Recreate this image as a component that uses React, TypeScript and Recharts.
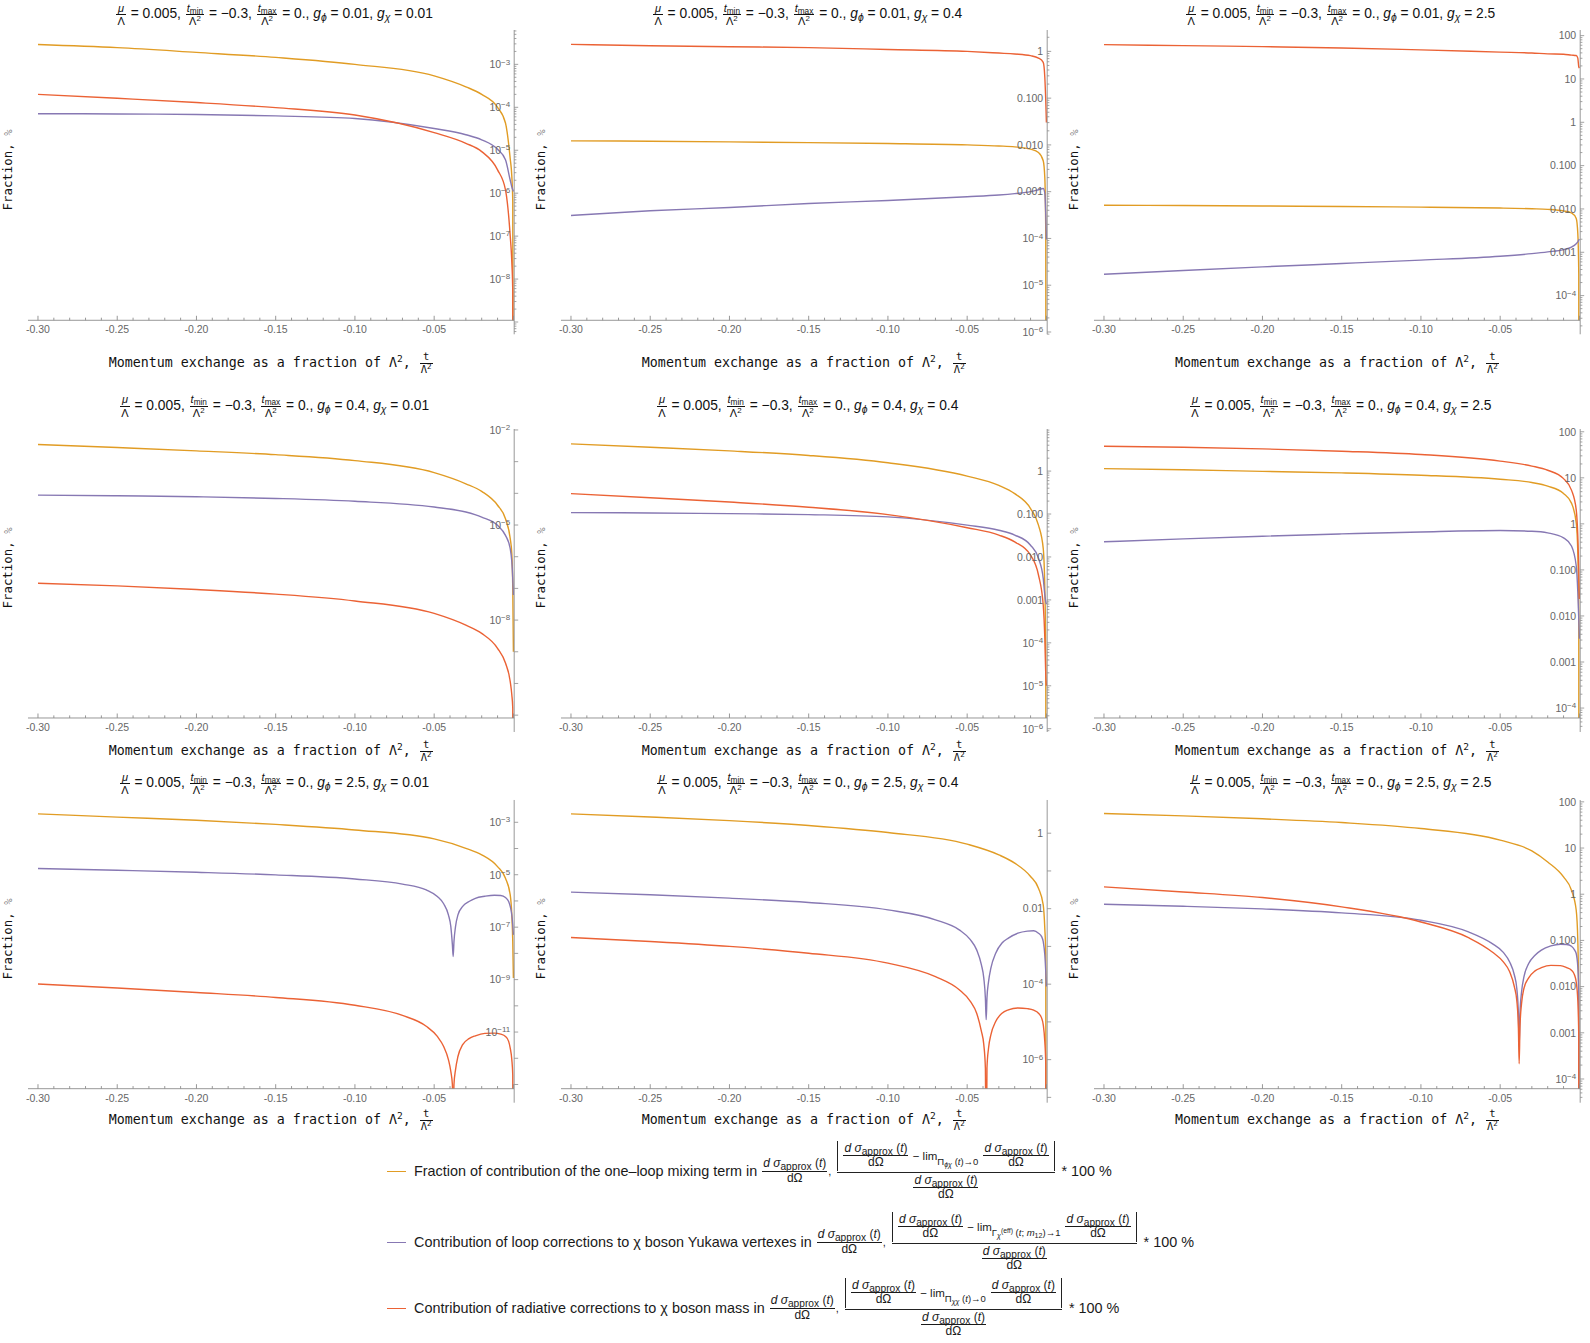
import React from 'react';
import { LineChart, Line, XAxis, YAxis } from 'recharts';

// ---------- colours / fonts ----------
const ORANGE = '#E19C24';
const PURPLE = '#8778B3';
const RED = '#EB6235';
const AXIS = '#8c8c8c';
const TICKTXT = '#666666';
const SANS = "'Liberation Sans', Arial, Helvetica, sans-serif";
const MONO = "'DejaVu Sans Mono', 'Liberation Mono', monospace";

// ---------- data ----------
const T_SMOOTH = [-0.30, -0.25, -0.20, -0.15, -0.10, -0.05, -0.03, -0.02, -0.01, -0.005, -0.002, -0.001, -0.0004, 0];
const T_DIP = [-0.30, -0.25, -0.20, -0.15, -0.10, -0.07, -0.055, -0.048, -0.044, -0.041, -0.0395, -0.0385, -0.038, -0.0375, -0.0365, -0.035, -0.032, -0.028, -0.024, -0.018, -0.012, -0.008, -0.005, -0.003, -0.002, -0.001, -0.0004, 0];

const G_PHI = ['0.01', '0.4', '2.5'];
const G_CHI = ['0.01', '0.4', '2.5'];

// row 1 (g_phi = 0.01)
const ORANGE_11 = [2.9e-3, 2.45e-3, 1.9e-3, 1.45e-3, 1.0e-3, 5.4e-4, 3.0e-4, 2.0e-4, 1.0e-4, 4.3e-5, 6.3e-6, 2.5e-6, 6.3e-7, 1e-20];
const PURPLE_11 = [7.1e-5, 7.0e-5, 6.8e-5, 6.3e-5, 5.5e-5, 3.2e-5, 2.3e-5, 1.75e-5, 1.05e-5, 6.0e-6, 2.0e-6, 1.4e-6, 1.2e-6, 1.1e-6];
const RED_11 = [2.0e-4, 1.62e-4, 1.29e-4, 9.8e-5, 6.6e-5, 2.57e-5, 1.45e-5, 9.3e-6, 3.5e-6, 1.2e-6, 1.0e-7, 2.5e-8, 5.0e-9, 1e-20];

const ORANGE_12 = [1.22e-2, 1.2e-2, 1.16e-2, 1.12e-2, 1.07e-2, 1.0e-2, 9.5e-3, 9.1e-3, 8.1e-3, 6.9e-3, 4.6e-3, 2.0e-3, 1.26e-4, 1e-20];
const PURPLE_12 = [3.1e-4, 3.9e-4, 4.6e-4, 5.6e-4, 6.5e-4, 7.8e-4, 8.5e-4, 9.1e-4, 1.0e-3, 1.1e-3, 1.17e-3, 9.3e-4, 3.2e-4, 9.5e-5];
const RED_12 = [1.41, 1.32, 1.26, 1.2, 1.1, 1.0, 0.92, 0.88, 0.81, 0.72, 0.58, 0.28, 0.087, 0.030];

const ORANGE_13 = [1.22e-2, 1.2e-2, 1.17e-2, 1.14e-2, 1.1e-2, 1.05e-2, 1.01e-2, 9.8e-3, 9.0e-3, 8.1e-3, 6.0e-3, 2.7e-3, 3.2e-4, 1e-20];
const PURPLE_13 = [3.1e-4, 3.8e-4, 4.6e-4, 5.5e-4, 6.6e-4, 8.1e-4, 9.3e-4, 1.02e-3, 1.15e-3, 1.32e-3, 1.58e-3, 1.74e-3, 1.9e-3, 2.0e-3];
const RED_13 = [62, 58.9, 55.7, 51.9, 46.8, 41.7, 39.8, 38.0, 37.2, 35.5, 34.7, 30.2, 19.1, 17.8];

// row 2 (g_phi = 0.4)
const ORANGE_21 = [3.47e-3, 2.78e-3, 2.19e-3, 1.66e-3, 1.08e-3, 4.5e-4, 2.0e-4, 1.15e-4, 4.2e-5, 1.58e-5, 3.7e-6, 1.26e-6, 1.0e-7, 1.0e-9];
const PURPLE_21 = [8.8e-5, 8.4e-5, 7.8e-5, 6.9e-5, 5.6e-5, 3.7e-5, 2.57e-5, 1.78e-5, 9.8e-6, 4.7e-6, 1.8e-6, 6.9e-7, 2.0e-7, 6.2e-8];
const RED_21 = [1.46e-7, 1.2e-7, 9.2e-8, 6.6e-8, 4.0e-8, 1.62e-8, 6.9e-9, 3.8e-9, 1.29e-9, 4.4e-10, 1.15e-10, 4.4e-11, 1.66e-11, 1e-30];

const ORANGE_22 = [4.3, 3.6, 2.96, 2.31, 1.56, 0.766, 0.465, 0.298, 0.134, 0.055, 0.0158, 1.86e-3, 5.2e-5, 1e-20];
const PURPLE_22 = [0.108, 0.106, 0.102, 0.097, 0.0857, 0.055, 0.042, 0.0324, 0.0188, 9.3e-3, 3.16e-3, 1.32e-3, 9.1e-4, 7.9e-4];
const RED_22 = [0.298, 0.24, 0.19, 0.144, 0.097, 0.048, 0.0324, 0.0224, 0.011, 3.8e-3, 7.6e-4, 1.29e-4, 1.82e-5, 1.0e-5];

const ORANGE_23 = [15.8, 15.0, 13.8, 12.8, 11.4, 9.3, 7.9, 6.6, 4.57, 2.82, 1.05, 0.237, 8.7e-3, 1e-20];
const PURPLE_23 = [0.408, 0.473, 0.54, 0.605, 0.668, 0.715, 0.692, 0.637, 0.498, 0.331, 0.123, 0.033, 8.7e-3, 3.2e-3];
const RED_23 = [48.4, 46.1, 42.5, 37.8, 32.1, 23.1, 18.0, 14.6, 9.6, 5.4, 2.02, 0.537, 0.105, 0.0234];

// row 3 (g_phi = 2.5) : purple / red use T_DIP
const ORANGE_31 = [2.09e-3, 1.58e-3, 1.2e-3, 8.3e-4, 5.1e-4, 2.32e-4, 1.02e-4, 5.75e-5, 2.04e-5, 7.4e-6, 1.7e-6, 2.95e-7, 2.8e-8, 1.15e-9];
const PURPLE_31 = [1.72e-5, 1.48e-5, 1.24e-5, 9.9e-6, 6.9e-6, 4.4e-6, 2.63e-6, 1.48e-6, 7.8e-7, 2.95e-7, 1.07e-7, 2.14e-8, 7.6e-9, 2.8e-8, 1.07e-7, 2.95e-7, 6.2e-7, 9.5e-7, 1.26e-6, 1.51e-6, 1.66e-6, 1.62e-6, 1.35e-6, 9.5e-7, 6.2e-7, 2.95e-7, 1.23e-7, 5.1e-8];
const RED_31 = [6.8e-10, 4.8e-10, 3.24e-10, 2.09e-10, 1.05e-10, 4.3e-11, 1.66e-11, 6.8e-12, 2.8e-12, 8.9e-13, 3.2e-13, 1.0e-13, 1e-16, 1.0e-13, 3.7e-13, 1.17e-12, 3.3e-12, 5.6e-12, 7.2e-12, 8.9e-12, 9.1e-12, 8.3e-12, 6.8e-12, 4.4e-12, 2.45e-12, 8.9e-13, 2.3e-13, 1e-20];

const ORANGE_32 = [3.25, 2.7, 2.16, 1.6, 1.04, 0.513, 0.267, 0.161, 0.0713, 0.035, 0.0126, 3.0e-3, 6.0e-4, 1e-20];
const PURPLE_32 = [2.74e-2, 2.33e-2, 1.9e-2, 1.46e-2, 9.3e-3, 5.07e-3, 2.75e-3, 1.51e-3, 8.1e-4, 3.24e-4, 1.45e-4, 4.3e-5, 1.15e-5, 4.3e-5, 1.17e-4, 2.7e-4, 6.6e-4, 1.23e-3, 1.66e-3, 2.24e-3, 2.54e-3, 2.6e-3, 2.24e-3, 1.82e-3, 1.35e-3, 6.0e-4, 2.19e-4, 8.7e-5];
const RED_32 = [1.73e-3, 1.35e-3, 1.0e-3, 6.6e-4, 3.6e-4, 1.58e-4, 7.1e-5, 3.5e-5, 1.7e-5, 5.6e-6, 2.5e-6, 6.0e-7, 1e-10, 6.0e-7, 2.04e-6, 4.6e-6, 1.02e-5, 1.7e-5, 2.09e-5, 2.34e-5, 2.24e-5, 2.04e-5, 1.7e-5, 1.26e-5, 8.5e-6, 3.0e-6, 7.4e-7, 1e-20];

const ORANGE_33 = [55.8, 49.8, 42.9, 35.6, 26.4, 14.8, 8.7, 5.0, 2.37, 1.22, 0.45, 0.1, 4.3e-3, 1e-20];
const PURPLE_33 = [0.607, 0.55, 0.481, 0.394, 0.274, 0.153, 0.0851, 0.055, 0.0342, 0.0176, 9.1e-3, 2.6e-3, 4.9e-4, 2.6e-3, 7.6e-3, 0.0162, 0.0316, 0.0479, 0.0617, 0.0759, 0.0826, 0.0813, 0.0748, 0.0617, 0.0519, 0.0267, 7.1e-3, 1e-20];
const RED_33 = [1.44, 1.12, 0.847, 0.532, 0.251, 0.115, 0.0562, 0.0342, 0.0209, 9.8e-3, 5.0e-3, 1.35e-3, 2.14e-4, 1.35e-3, 4.3e-3, 9.1e-3, 0.0155, 0.0219, 0.0257, 0.0288, 0.0285, 0.0257, 0.0226, 0.0176, 0.0126, 5.0e-3, 8.1e-4, 1e-20];

// ---------- tick labels ----------
const X_MAJOR = [-0.30, -0.25, -0.20, -0.15, -0.10, -0.05, 0];
const X_LABELS = ['-0.30', '-0.25', '-0.20', '-0.15', '-0.10', '-0.05', ''];

const Y_LAB_POW_3_8: [number, string][] = [[1e-3, '10^−3'], [1e-4, '10^−4'], [1e-5, '10^−5'], [1e-6, '10^−6'], [1e-7, '10^−7'], [1e-8, '10^−8']];
const Y_LAB_1_TO_6: [number, string][] = [[1, '1'], [0.1, '0.100'], [0.01, '0.010'], [0.001, '0.001'], [1e-4, '10^−4'], [1e-5, '10^−5'], [1e-6, '10^−6']];
const Y_LAB_100_TO_4: [number, string][] = [[100, '100'], [10, '10'], [1, '1'], [0.1, '0.100'], [0.01, '0.010'], [0.001, '0.001'], [1e-4, '10^−4']];
const Y_LAB_21: [number, string][] = [[1e-2, '10^−2'], [1e-5, '10^−5'], [1e-8, '10^−8']];
const Y_LAB_31: [number, string][] = [[1e-3, '10^−3'], [1e-5, '10^−5'], [1e-7, '10^−7'], [1e-9, '10^−9'], [1e-11, '10^−11']];
const Y_LAB_32: [number, string][] = [[1, '1'], [0.01, '0.01'], [1e-4, '10^−4'], [1e-6, '10^−6']];

type PanelCfg = {
  dom: [number, number];
  labels: [number, string][];
  mode: 'sub' | 'decade';
  orange: number[];
  purple: number[];
  red: number[];
  dip: boolean;
};

const PANELS: PanelCfg[] = [
  { dom: [-8.96, -2.2], labels: Y_LAB_POW_3_8, mode: 'sub', orange: ORANGE_11, purple: PURPLE_11, red: RED_11, dip: false },
  { dom: [-5.75, 0.457], labels: Y_LAB_1_TO_6, mode: 'sub', orange: ORANGE_12, purple: PURPLE_12, red: RED_12, dip: false },
  { dom: [-4.57, 2.13], labels: Y_LAB_100_TO_4, mode: 'sub', orange: ORANGE_13, purple: PURPLE_13, red: RED_13, dip: false },
  { dom: [-11.09, -1.97], labels: Y_LAB_21, mode: 'decade', orange: ORANGE_21, purple: PURPLE_21, red: RED_21, dip: false },
  { dom: [-5.75, 0.98], labels: Y_LAB_1_TO_6, mode: 'sub', orange: ORANGE_22, purple: PURPLE_22, red: RED_22, dip: false },
  { dom: [-4.216, 2.06], labels: Y_LAB_100_TO_4, mode: 'sub', orange: ORANGE_23, purple: PURPLE_23, red: RED_23, dip: false },
  { dom: [-13.16, -2.15], labels: Y_LAB_31, mode: 'decade', orange: ORANGE_31, purple: PURPLE_31, red: RED_31, dip: true },
  { dom: [-6.77, 0.88], labels: Y_LAB_32, mode: 'decade', orange: ORANGE_32, purple: PURPLE_32, red: RED_32, dip: true },
  { dom: [-4.21, 2.04], labels: Y_LAB_100_TO_4, mode: 'sub', orange: ORANGE_33, purple: PURPLE_33, red: RED_33, dip: true },
];

// ---------- layout ----------
const PLOT_LEFT = [28.1, 561.2, 1094.3];
const PLOT_W = 486.2;
const PLOT_TOP = [30.4, 429.3, 800.3];
const PLOT_BOTTOM = [320.7, 718.3, 1089];
const TITLE_Y = [14, 405.7, 783.3];
const XLABEL_Y = [363.3, 751, 1120];
const LEGEND_Y = [1171, 1242, 1308];
const X_DOMAIN: [number, number] = [-0.3063, 0.0005];
const ML = 10, MT = 10, YW = 40, XH = 30;
const Y_EXT = 14;

const pts = (ts: number[], vs: number[]) => ts.map((t, i) => ({ t, v: vs[i] }));

const X_TICKS: number[] = (() => {
  const out: number[] = [];
  for (let i = -30; i <= 0; i++) out.push(i / 100);
  return out;
})();

function xTickInfo(v: number) {
  const idx = X_MAJOR.findIndex((m) => Math.abs(m - v) < 1e-9);
  return idx >= 0 ? { major: true, label: X_LABELS[idx] } : { major: false, label: '' };
}

const XTick = (props: any) => {
  const { x, y, payload } = props;
  const info = xTickInfo(payload.value);
  return (
    <g>
      <line x1={x} y1={y} x2={x} y2={y - (info.major ? 4.5 : 2.6)} stroke={AXIS} strokeWidth={0.9} />
      {info.label && (
        <text x={x} y={y + 13} textAnchor="middle" fontSize={10.5} fill={TICKTXT} fontFamily={SANS}>
          {info.label}
        </text>
      )}
    </g>
  );
};

type YT = { v: number; major: boolean; label: string };

function buildYTicks(lo: number, hi: number, ext: number, labels: [number, string][], mode: 'sub' | 'decade'): YT[] {
  const out: YT[] = [];
  const start = Math.floor(lo - ext) - 1;
  const end = Math.ceil(hi);
  const findLabel = (v: number) => {
    const f = labels.find((l) => Math.abs(Math.log10(l[0]) - Math.log10(v)) < 1e-6);
    return f ? f[1] : '';
  };
  for (let n = start; n <= end; n++) {
    const base = parseFloat('1e' + n);
    if (n >= lo - ext && n <= hi) out.push({ v: base, major: true, label: findLabel(base) });
    if (mode === 'sub') {
      for (let k = 2; k <= 9; k++) {
        const e = n + Math.log10(k);
        if (e >= lo - ext && e <= hi) out.push({ v: k * base, major: false, label: '' });
      }
    }
  }
  return out;
}

function Panel({ r, c, cfg }: { r: number; c: number; cfg: PanelCfg }) {
  const plotH = PLOT_BOTTOM[r] - PLOT_TOP[r];
  const W = ML + PLOT_W + YW;
  const H = MT + plotH + XH;
  const [lo, hi] = cfg.dom;
  const ext = (Y_EXT * (hi - lo)) / plotH;
  const yt = buildYTicks(lo, hi, ext, cfg.labels, cfg.mode);
  const plotBottom = MT + plotH;
  const tPurpleRed = cfg.dip ? T_DIP : T_SMOOTH;

  const YTick = (props: any) => {
    const { x, y, payload, index } = props;
    const v = payload.value;
    const info = yt.find((q) => Math.abs(Math.log10(q.v) - Math.log10(v)) < 1e-6) || { major: false, label: '' };
    let base = info.label;
    let exp = '';
    if (info.label.includes('^')) {
      const parts = info.label.split('^');
      base = parts[0];
      exp = parts[1];
    }
    return (
      <g>
        {index === 0 && <line x1={x} y1={plotBottom} x2={x} y2={plotBottom + Y_EXT} stroke={AXIS} strokeWidth={0.9} />}
        <line x1={x} y1={y} x2={x + (info.major ? 4 : 2.2)} y2={y} stroke={AXIS} strokeWidth={0.8} />
        {info.label && (
          <text x={x - 4} y={y} dy="0.36em" textAnchor="end" fontSize={10.5} fill={TICKTXT} fontFamily={SANS}>
            {base}
            {exp && (
              <tspan dy="-0.45em" fontSize={8}>
                {exp}
              </tspan>
            )}
          </text>
        )}
      </g>
    );
  };

  return (
    <div style={{ position: 'absolute', left: PLOT_LEFT[c] - ML, top: PLOT_TOP[r] - MT }}>
      <LineChart width={W} height={H} margin={{ top: MT, right: 0, bottom: 0, left: ML }}>
        <XAxis
          type="number"
          dataKey="t"
          domain={X_DOMAIN}
          allowDataOverflow
          ticks={X_TICKS}
          interval={0}
          tick={<XTick />}
          tickLine={false}
          tickSize={0}
          tickMargin={0}
          axisLine={{ stroke: AXIS, strokeWidth: 0.9 }}
          height={XH}
        />
        <YAxis
          orientation="right"
          type="number"
          scale="log"
          domain={[Math.pow(10, lo), Math.pow(10, hi)]}
          allowDataOverflow
          ticks={yt.map((q) => q.v)}
          interval={0}
          tick={YTick}
          tickLine={false}
          tickSize={0}
          tickMargin={0}
          axisLine={{ stroke: AXIS, strokeWidth: 0.9 }}
          width={YW}
        />
        <Line data={pts(T_SMOOTH, cfg.orange)} dataKey="v" type="monotone" stroke={ORANGE} strokeWidth={1.4} dot={false} activeDot={false} isAnimationActive={false} />
        <Line data={pts(tPurpleRed, cfg.purple)} dataKey="v" type="monotone" stroke={PURPLE} strokeWidth={1.4} dot={false} activeDot={false} isAnimationActive={false} />
        <Line data={pts(tPurpleRed, cfg.red)} dataKey="v" type="monotone" stroke={RED} strokeWidth={1.4} dot={false} activeDot={false} isAnimationActive={false} />
      </LineChart>
    </div>
  );
}

// ---------- math-ish text helpers ----------
const S = ({ children, fs = '0.75em' }: any) => (
  <span style={{ fontSize: fs, verticalAlign: '-0.3em', lineHeight: 0 }}>{children}</span>
);
const Sup = ({ children, fs = '0.72em' }: any) => (
  <span style={{ fontSize: fs, verticalAlign: '0.5em', lineHeight: 0 }}>{children}</span>
);
const Frac = ({ n, d, fs }: any) => (
  <span
    style={{
      display: 'inline-flex',
      flexDirection: 'column',
      alignItems: 'center',
      verticalAlign: 'middle',
      fontSize: fs,
      lineHeight: 1.12,
      margin: '0 1px',
    }}
  >
    <span style={{ padding: '0 1px', whiteSpace: 'pre' }}>{n}</span>
    <span style={{ alignSelf: 'stretch', borderTop: '1px solid currentColor' }} />
    <span style={{ padding: '0 1px', whiteSpace: 'pre' }}>{d}</span>
  </span>
);

function Title({ cx, cy, phi, chi }: { cx: number; cy: number; phi: string; chi: string }) {
  const tFrac = (sub: string) => (
    <Frac fs={11} n={<><i>t</i><S>{sub}</S></>} d={<>Λ<Sup>2</Sup></>} />
  );
  return (
    <div
      style={{
        position: 'absolute',
        left: cx - 260,
        width: 520,
        top: cy - 15,
        height: 30,
        lineHeight: '30px',
        textAlign: 'center',
        whiteSpace: 'pre',
        fontFamily: SANS,
        fontSize: 13.8,
        color: '#111',
      }}
    >
      <Frac fs={11} n={<i>μ</i>} d="Λ" />
      {' = 0.005, '}
      {tFrac('min')}
      {' = −0.3, '}
      {tFrac('max')}
      {' = 0., '}
      <i>g</i>
      <S><i>ϕ</i></S>
      {' = ' + phi + ', '}
      <i>g</i>
      <S><i>χ</i></S>
      {' = ' + chi}
    </div>
  );
}

function XLabel({ cx, cy }: { cx: number; cy: number }) {
  return (
    <div
      style={{
        position: 'absolute',
        left: cx - 260,
        width: 520,
        top: cy - 14,
        height: 28,
        lineHeight: '28px',
        textAlign: 'center',
        whiteSpace: 'pre',
        fontFamily: MONO,
        fontSize: 13.3,
        color: '#111',
      }}
    >
      {'Momentum exchange as a fraction of Λ'}
      <Sup>2</Sup>
      {', '}
      <Frac fs={10.5} n="t" d={<>Λ<Sup>2</Sup></>} />
    </div>
  );
}

function YLabel({ cx, cy }: { cx: number; cy: number }) {
  return (
    <div
      style={{
        position: 'absolute',
        left: cx - 100,
        width: 200,
        top: cy - 7,
        height: 14,
        lineHeight: '14px',
        textAlign: 'center',
        whiteSpace: 'pre',
        transform: 'rotate(-90deg)',
        fontFamily: MONO,
        fontSize: 12.4,
        color: '#111',
      }}
    >
      {'Fraction, '}
      <span style={{ fontSize: 10.5, color: '#888' }}>%</span>
    </div>
  );
}

const DS = ({ fs = 12 }: any) => (
  <Frac
    fs={fs}
    n={<><i>d σ</i><S fs="0.85em">approx</S>{' ('}<i>t</i>{')'}</>}
    d={<>dΩ</>}
  />
);

const BigFrac = ({ limSub }: any) => (
  <span style={{ display: 'inline-flex', flexDirection: 'column', alignItems: 'center', fontSize: 12, margin: '0 3px' }}>
    <span
      style={{
        display: 'flex',
        alignItems: 'center',
        borderLeft: '1px solid #222',
        borderRight: '1px solid #222',
        padding: '1px 4px',
        whiteSpace: 'pre',
      }}
    >
      <DS />
      <span style={{ fontSize: 11.5 }}>{' − lim'}</span>
      <span style={{ fontSize: 9.5, alignSelf: 'flex-end', marginBottom: 3, whiteSpace: 'pre' }}>{limSub}</span>
      <span style={{ width: 4 }} />
      <DS />
    </span>
    <span style={{ alignSelf: 'stretch', borderTop: '1px solid #222', margin: '1px 0' }} />
    <DS />
  </span>
);

function LegendRow({ y, color, text, limSub }: any) {
  return (
    <div
      style={{
        position: 'absolute',
        left: 387,
        top: y - 32,
        height: 64,
        display: 'flex',
        alignItems: 'center',
        whiteSpace: 'pre',
        fontFamily: SANS,
        fontSize: 14.4,
        color: '#1a1a1a',
      }}
    >
      <span style={{ display: 'inline-block', width: 19, borderTop: `1.6px solid ${color}`, marginRight: 8 }} />
      <span>{text + ' '}</span>
      <DS />
      <span style={{ fontSize: 11 }}>{', '}</span>
      <BigFrac limSub={limSub} />
      <span>{' * 100 %'}</span>
    </div>
  );
}

export default function App() {
  return (
    <div style={{ position: 'absolute', left: 0, top: 0, width: 1590, height: 1343, background: '#fff', overflow: 'hidden' }}>
      {PANELS.map((cfg, i) => {
        const r = Math.floor(i / 3);
        const c = i % 3;
        const cx = PLOT_LEFT[c] + PLOT_W / 2;
        return (
          <React.Fragment key={i}>
            <Panel r={r} c={c} cfg={cfg} />
            <Title cx={cx + 3} cy={TITLE_Y[r]} phi={G_PHI[r]} chi={G_CHI[c]} />
            <XLabel cx={cx} cy={XLABEL_Y[r]} />
            <YLabel cx={PLOT_LEFT[c] - 20.5} cy={(PLOT_TOP[r] + PLOT_BOTTOM[r]) / 2 - 6} />
          </React.Fragment>
        );
      })}
      <LegendRow
        y={LEGEND_Y[0]}
        color={ORANGE}
        text="Fraction of contribution of the one–loop mixing term in"
        limSub={<>Π<S><i>ϕχ</i></S>{' ('}<i>t</i>{')→0'}</>}
      />
      <LegendRow
        y={LEGEND_Y[1]}
        color={PURPLE}
        text="Contribution of loop corrections to χ boson Yukawa vertexes in"
        limSub={<>Γ<S><i>χ</i></S><Sup>(eff)</Sup>{' ('}<i>t</i>{'; '}<i>m</i><S>12</S>{')→1'}</>}
      />
      <LegendRow
        y={LEGEND_Y[2]}
        color={RED}
        text="Contribution of radiative corrections to χ boson mass in"
        limSub={<>Π<S><i>χχ</i></S>{' ('}<i>t</i>{')→0'}</>}
      />
    </div>
  );
}
